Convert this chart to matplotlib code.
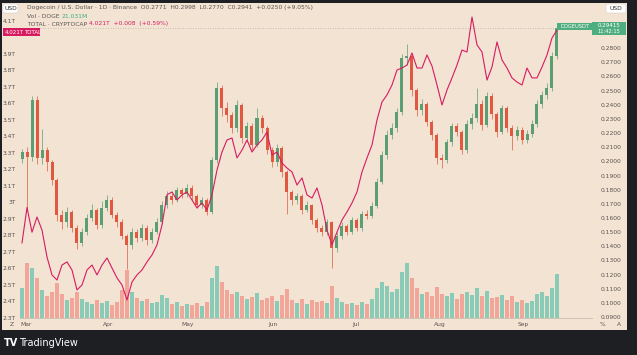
import numpy as np
import matplotlib
matplotlib.use("Agg")
import matplotlib.pyplot as plt
from matplotlib.patches import Rectangle, FancyBboxPatch

# DOGE/USD candles (close, high, low), volume and TOTAL crypto market cap (T)
first_open = 0.2020
close = [0.2066, 0.2030, 0.2433, 0.2023, 0.2080, 0.1995, 0.1868, 0.1621, 0.1572, 0.1642,
         0.1529, 0.1423, 0.1501, 0.1600, 0.1656, 0.1550, 0.1670, 0.1727, 0.1621, 0.1572,
         0.1473, 0.1409, 0.1501, 0.1459, 0.1529, 0.1444, 0.1501, 0.1572, 0.1692, 0.1755,
         0.1727, 0.1797, 0.1769, 0.1812, 0.1755, 0.1692, 0.1727, 0.1642, 0.2009, 0.2518,
         0.2376, 0.2327, 0.2235, 0.2398, 0.2165, 0.2249, 0.2115, 0.2306, 0.2235, 0.2080,
         0.1995, 0.2094, 0.1925, 0.1783, 0.1727, 0.1755, 0.1656, 0.1692, 0.1586, 0.1529,
         0.1501, 0.1572, 0.1388, 0.1473, 0.1543, 0.1501, 0.1586, 0.1529, 0.1628, 0.1614,
         0.1685, 0.1854, 0.2045, 0.2186, 0.2235, 0.2348, 0.2729, 0.2744, 0.2503, 0.2362,
         0.2405, 0.2278, 0.2186, 0.2023, 0.2009, 0.2136, 0.2249, 0.2207, 0.2080, 0.2263,
         0.2306, 0.2405, 0.2256, 0.2461, 0.2334, 0.2207, 0.2376, 0.2235, 0.2179, 0.2221,
         0.2150, 0.2193, 0.2263, 0.2405, 0.2468, 0.2518, 0.2744, 0.2941]
high = [0.209, 0.210, 0.246, 0.246, 0.223, 0.210, 0.201, 0.188, 0.166, 0.168,
        0.166, 0.155, 0.153, 0.163, 0.170, 0.167, 0.172, 0.176, 0.175, 0.164,
        0.159, 0.149, 0.153, 0.152, 0.156, 0.155, 0.153, 0.160, 0.172, 0.179,
        0.178, 0.182, 0.181, 0.184, 0.183, 0.177, 0.175, 0.174, 0.203, 0.256,
        0.254, 0.242, 0.235, 0.243, 0.241, 0.228, 0.227, 0.238, 0.233, 0.225,
        0.210, 0.212, 0.211, 0.194, 0.180, 0.178, 0.177, 0.172, 0.170, 0.160,
        0.155, 0.159, 0.158, 0.150, 0.157, 0.156, 0.161, 0.160, 0.165, 0.166,
        0.171, 0.188, 0.207, 0.222, 0.227, 0.238, 0.276, 0.283, 0.276, 0.252,
        0.244, 0.242, 0.229, 0.220, 0.205, 0.216, 0.227, 0.227, 0.222, 0.229,
        0.234, 0.252, 0.243, 0.249, 0.248, 0.235, 0.240, 0.239, 0.226, 0.225,
        0.224, 0.222, 0.229, 0.243, 0.250, 0.255, 0.277, 0.296]
low = [0.199, 0.165, 0.200, 0.198, 0.198, 0.193, 0.183, 0.158, 0.152, 0.154,
       0.150, 0.138, 0.140, 0.148, 0.158, 0.152, 0.153, 0.165, 0.160, 0.154,
       0.145, 0.124, 0.138, 0.143, 0.144, 0.141, 0.142, 0.149, 0.156, 0.167,
       0.170, 0.171, 0.174, 0.175, 0.173, 0.167, 0.167, 0.162, 0.163, 0.199,
       0.232, 0.228, 0.220, 0.221, 0.213, 0.214, 0.208, 0.210, 0.220, 0.205,
       0.196, 0.197, 0.189, 0.163, 0.169, 0.170, 0.163, 0.164, 0.156, 0.150,
       0.147, 0.148, 0.125, 0.136, 0.145, 0.148, 0.149, 0.151, 0.151, 0.159,
       0.160, 0.167, 0.184, 0.202, 0.216, 0.221, 0.233, 0.268, 0.246, 0.232,
       0.233, 0.225, 0.215, 0.198, 0.195, 0.199, 0.211, 0.218, 0.205, 0.206,
       0.223, 0.228, 0.222, 0.224, 0.230, 0.217, 0.219, 0.221, 0.208, 0.215,
       0.212, 0.213, 0.217, 0.224, 0.238, 0.244, 0.250, 0.272]
volume = [3.0, 5.5, 5.0, 4.0, 2.8, 2.2, 2.6, 3.5, 2.4, 1.8,
          2.0, 2.6, 1.9, 1.6, 1.4, 1.8, 1.5, 1.7, 1.3, 1.6,
          2.8, 4.8, 2.6, 2.0, 1.7, 1.9, 1.5, 1.6, 2.3, 2.0,
          1.4, 1.6, 1.2, 1.4, 1.3, 1.5, 1.2, 1.6, 4.0, 5.2,
          3.6, 2.8, 2.4, 2.6, 2.2, 1.9, 2.1, 2.5, 1.8, 2.0,
          2.2, 1.7, 2.3, 2.9, 1.8, 1.5, 1.9, 1.4, 1.8, 1.6,
          1.7, 1.5, 3.2, 2.0, 1.6, 1.4, 1.5, 1.3, 1.6, 1.4,
          1.9, 3.0, 3.6, 3.2, 2.6, 2.9, 4.6, 5.5, 4.0, 3.0,
          2.4, 2.6, 2.2, 3.1, 2.4, 2.2, 2.5, 1.9, 2.4, 2.6,
          2.3, 3.0, 2.2, 2.7, 2.0, 2.1, 2.3, 1.8, 2.2, 1.6,
          1.8, 1.5, 1.7, 2.4, 2.6, 2.2, 3.0, 4.4]
total = [2.755, 2.970, 2.820, 2.912, 2.833, 2.670, 2.561, 2.530, 2.621, 2.640,
         2.591, 2.470, 2.500, 2.591, 2.621, 2.561, 2.621, 2.664, 2.603, 2.543,
         2.500, 2.409, 2.518, 2.561, 2.591, 2.640, 2.682, 2.743, 2.864, 3.046,
         3.064, 3.015, 3.046, 3.064, 3.015, 2.967, 2.997, 2.955, 3.046, 3.197,
         3.306, 3.379, 3.391, 3.270, 3.318, 3.379, 3.306, 3.349, 3.379, 3.427,
         3.288, 3.306, 3.239, 3.209, 3.185, 3.106, 3.149, 3.046, 3.027, 3.088,
         2.985, 2.833, 2.743, 2.821, 2.894, 2.943, 2.997, 3.064, 3.185, 3.270,
         3.349, 3.500, 3.609, 3.652, 3.712, 3.803, 3.815, 3.833, 3.906, 3.815,
         3.815, 3.894, 3.827, 3.712, 3.591, 3.682, 3.755, 3.833, 3.924, 3.912,
         4.124, 3.955, 3.912, 3.742, 3.821, 3.973, 3.864, 3.815, 3.755, 3.730,
         3.712, 3.815, 3.755, 3.755, 3.821, 3.894, 3.997, 4.045]
months = ["Mar", "Apr", "May", "Jun", "Jul", "Aug", "Sep"]
month_px = [26, 108, 188, 273, 356, 440, 523]
price_ticks = [0.09, 0.10, 0.11, 0.12, 0.13, 0.14, 0.15, 0.16, 0.17, 0.18,
               0.19, 0.20, 0.21, 0.22, 0.23, 0.24, 0.25, 0.26, 0.27, 0.28]
total_ticks = [2.3, 2.4, 2.5, 2.6, 2.7, 2.8, 2.9, 3.0, 3.1, 3.2, 3.3, 3.4,
               3.5, 3.6, 3.7, 3.8, 3.9, 4.1]

W, H = 637, 355
BG = "#f2e3d3"
GREEN, RED = "#5c9e74", "#e0583f"
VGREEN, VRED = "#7fc9b6", "#f2a094"
PINK = "#d81b60"
TXT = "#5a5450"
FS = 4.3

def fx(px):
    return px / W

def fy(py):
    return 1 - py / H

fig = plt.figure(figsize=(W / 100, H / 100), dpi=100, facecolor="#1e1f22")
fig.patches.append(Rectangle((fx(2), fy(330)), 625 / W, 327 / H, transform=fig.transFigure,
                             facecolor=BG, edgecolor="none", zorder=-10))

close = np.array(close)
opens = np.r_[first_open, close[:-1]]
x = np.arange(len(close))
up = close >= opens
ccol = np.where(up, GREEN, RED)
vcol = np.where(up, VGREEN, VRED)

rect = [fx(20), fy(318), 572 / W, 315 / H]
axv = fig.add_axes(rect)
ax = fig.add_axes(rect, sharex=axv)
axt = fig.add_axes(rect, sharex=axv)
for a in (axv, ax, axt):
    a.patch.set_visible(False)
    for s in a.spines.values():
        s.set_visible(False)
    a.tick_params(length=0)

# pixel -> index mapping for x (first candle at px 22, 5 px per candle)
def px_to_i(px):
    return (px - 22) / 5

axv.set_xlim(px_to_i(20), px_to_i(592))

# volume
axv.bar(x, volume, width=0.8, color=vcol, linewidth=0, alpha=0.9)
axv.set_ylim(0, 31.5)
axv.set_yticks([])
axv.spines["bottom"].set_visible(True)
axv.spines["bottom"].set_color("#c8bcae")
axv.spines["bottom"].set_linewidth(0.6)
axv.set_xticks([px_to_i(p) for p in month_px])
axv.set_xticklabels(months, fontsize=FS, color=TXT)
axv.tick_params(axis="x", pad=3)

# candles
ax.vlines(x, low, high, color=ccol, linewidth=0.5)
ax.bar(x, np.maximum(np.abs(close - opens), 0.0007), bottom=np.minimum(opens, close),
       width=0.6, color=ccol, linewidth=0)
ax.set_ylim(0.0894, 0.3118)
ax.yaxis.tick_right()
ax.set_yticks(price_ticks)
ax.set_yticklabels([f"{v:.4f}" for v in price_ticks], fontsize=FS, color=TXT)
ax.tick_params(axis="y", pad=6)
ax.tick_params(axis="x", labelbottom=False)
ax.axhline(close[-1], color="#b9b0a6", linewidth=0.6, linestyle=(0, (1, 2)))

# TOTAL line
axt.plot(x, total, color=PINK, linewidth=0.8)
axt.set_ylim(2.3, 4.209)
axt.yaxis.tick_left()
axt.set_yticks(total_ticks)
axt.set_yticklabels([f"{v:g}T" for v in total_ticks], fontsize=FS, color=TXT)
axt.tick_params(axis="y", pad=3)
axt.tick_params(axis="x", labelbottom=False)

# header legend lines
fig.text(fx(27), fy(8), "Dogecoin / U.S. Dollar · 1D · Binance  O0.2771  H0.2998  L0.2770  C0.2941  +0.0250 (+9.05%)",
         fontsize=FS, color=TXT, va="center")
fig.text(fx(27), fy(16), "Vol · DOGE", fontsize=FS, color=TXT, va="center")
fig.text(fx(62), fy(16), "21.031M", fontsize=FS, color="#3fae7e", va="center")
fig.text(fx(27), fy(24), "TOTAL · CRYPTOCAP", fontsize=FS, color=TXT, va="center")
fig.text(fx(89), fy(24), "4.021T  +0.008  (+0.59%)", fontsize=FS, color=PINK, va="center")

# scale boxes
for bx, by, bw in [(3, 4, 15), (606, 4, 20)]:
    fig.patches.append(FancyBboxPatch((fx(bx), fy(by + 9)), bw / W, 9 / H, transform=fig.transFigure,
                                      boxstyle="round,pad=0,rounding_size=0.004",
                                      facecolor="white", edgecolor="#d8d0c6", linewidth=0.4))
    fig.text(fx(bx + bw / 2), fy(by + 4.5), "USD", fontsize=FS, color="#333", ha="center", va="center")

# current value labels
fig.patches.append(Rectangle((fx(3), fy(36)), 37 / W, 8 / H, transform=fig.transFigure,
                             facecolor=PINK, edgecolor="none"))
fig.text(fx(5), fy(32), "4.021T", fontsize=FS - 0.3, color="white", va="center")
fig.text(fx(24), fy(32), "TOTAL", fontsize=FS - 0.3, color="white", va="center")
fig.patches.append(Rectangle((fx(557), fy(30)), 35 / W, 7 / H, transform=fig.transFigure,
                             facecolor="#4fae80", edgecolor="none"))
fig.text(fx(574.5), fy(26.5), "DOGEUSDT", fontsize=FS - 0.6, color="white", ha="center", va="center")
fig.patches.append(Rectangle((fx(592), fy(35)), 34 / W, 13 / H, transform=fig.transFigure,
                             facecolor="#4fae80", edgecolor="none"))
fig.text(fx(609), fy(25.5), "0.29415", fontsize=FS - 0.3, color="white", ha="center", va="center")
fig.text(fx(609), fy(31.5), "11:42:15", fontsize=FS - 0.6, color="white", ha="center", va="center")

# bottom corner controls
fig.text(fx(12), fy(324), "Z", fontsize=FS, color=TXT, ha="center", va="center")
fig.text(fx(602), fy(324), "%", fontsize=FS, color=TXT, ha="center", va="center")
fig.text(fx(619), fy(324), "A", fontsize=FS, color=TXT, ha="center", va="center")

# footer
fig.text(fx(4), fy(343), "TV", fontsize=7, color="white", fontweight="bold", va="center")
fig.text(fx(19), fy(343), "TradingView", fontsize=7, color="white", va="center")

fig.savefig("out.png", dpi=100, facecolor=fig.get_facecolor())
